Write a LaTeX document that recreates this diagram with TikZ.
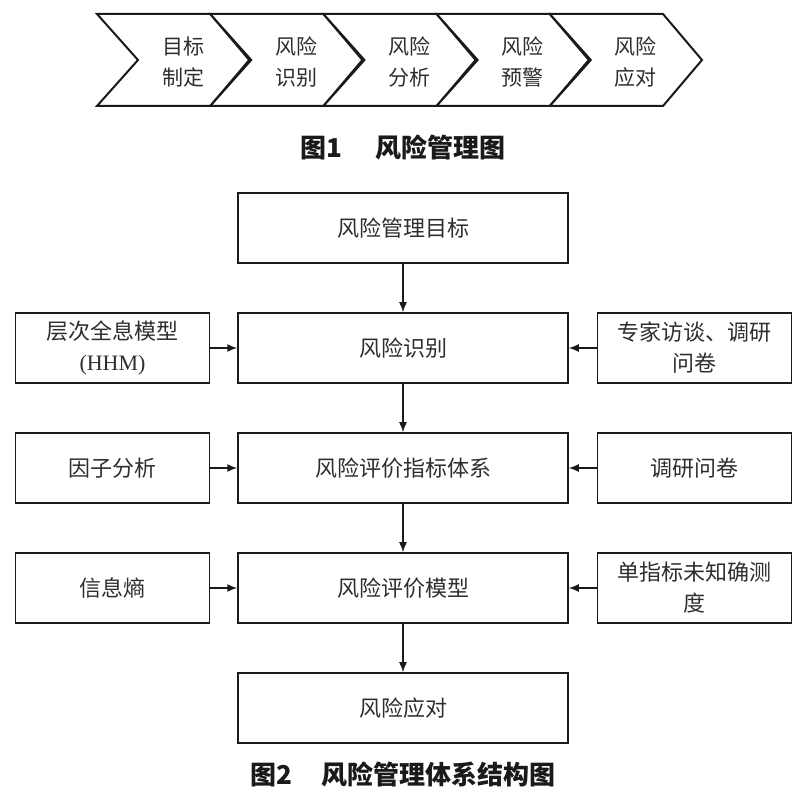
\documentclass[tikz,border=0pt]{standalone}
\usepackage{fontspec}
\setmainfont{Noto Sans CJK SC}
\newfontfamily\hhmfont{Liberation Serif}
\usetikzlibrary{arrows.meta,positioning}
\definecolor{Ink}{HTML}{1A1A1A}
\definecolor{Soft}{HTML}{2E2E2E}
\tikzset{box/.style={draw=Ink,line width=1.5pt,minimum height=70pt,align=center,inner sep=0pt,text=Soft,font=\fontsize{22}{31}\selectfont},mainbox/.style={box,minimum width=330pt},sidebox/.style={box,minimum width=194pt},flow/.style={-{Latex[length=10pt,width=8pt]},line width=1.5pt,draw=Ink},chev/.style={draw=Ink,line width=2pt,line join=miter,fill=white},chevtext/.style={align=center,text=Soft,font=\fontsize{21}{31}\selectfont},caption/.style={text=Ink,font=\fontsize{26}{30}\selectfont\bfseries}}

\begin{document}
\begin{tikzpicture}[x=1pt,y=1pt]
      \useasboundingbox (0,0) rectangle (800,797);
      % chevrons
      \foreach \lbl [count=\i from 0] in {{目标\\制定},{风险\\识别},{风险\\分析},{风险\\预警},{风险\\应对}}{
        \pgfmathsetmacro\lx{97+113.2*\i}
        \draw[chev](\lx,783)--(\lx+113.2,783)--(\lx+152.2,737)--(\lx+113.2,691)--(\lx,691)--(\lx+41,737)--cycle;
        \node[chevtext](c\i) at (\lx+86,735){\lbl};
      }
      \node[caption](cap1) at (403,649){图1\hspace{34pt}风险管理图};
      % structure
      \node[mainbox](goal) at (403,569){风险管理目标};
      \node[mainbox,below=48.5pt of goal](ident){风险识别};
      \node[mainbox,below=48.5pt of ident](index){风险评价指标体系};
      \node[mainbox,below=48.5pt of index](model){风险评价模型};
      \node[mainbox,below=48.5pt of model](resp){风险应对};
      \node[sidebox,left=27pt of ident](hhm){层次全息模型\\{\hhmfont (HHM)}};
      \node[sidebox,left=27pt of index](factor){因子分析};
      \node[sidebox,left=27pt of model](entropy){信息熵};
      \node[sidebox,right=28pt of ident](expert){专家访谈、调研\\问卷};
      \node[sidebox,right=28pt of index](survey){调研问卷};
      \node[sidebox,right=28pt of model](measure){单指标未知确测\\度};
      \draw[flow](goal)--(ident);\draw[flow](ident)--(index);\draw[flow](index)--(model);\draw[flow](model)--(resp);
      \draw[flow](hhm)--(ident);\draw[flow](factor)--(index);\draw[flow](entropy)--(model);
      \draw[flow](expert)--(ident);\draw[flow](survey)--(index);\draw[flow](measure)--(model);
      \node[caption](cap2) at (403,22){图2\hspace{30pt}风险管理体系结构图};
    \end{tikzpicture}
\end{document}
